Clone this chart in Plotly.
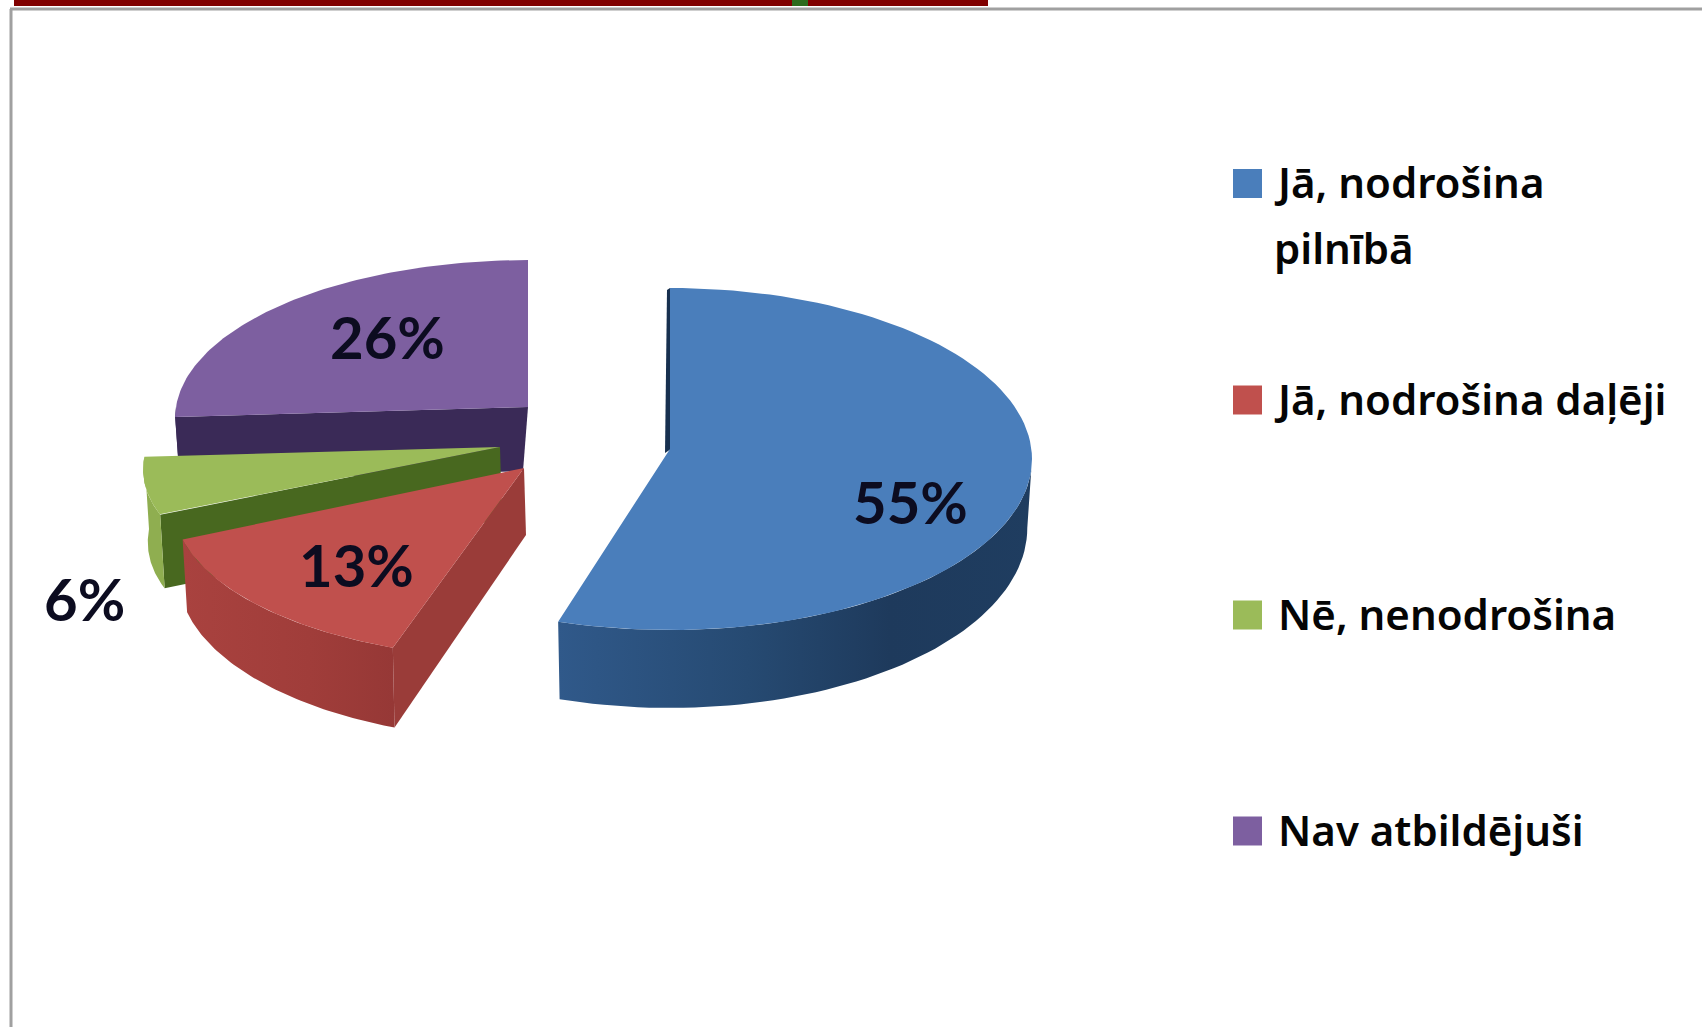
import numpy as np
import plotly.graph_objects as go

categories = ["Jā, nodrošina pilnībā", "Jā, nodrošina daļēji", "Nē, nenodrošina", "Nav atbildējuši"]
values = [55, 13, 6, 26]
legend_lines = [["Jā, nodrošina", "pilnībā"], ["Jā, nodrošina daļēji"], ["Nē, nenodrošina"], ["Nav atbildējuši"]]

top_colors = ["#4a7ebb", "#c0504d", "#9bbb59", "#7d5fa0"]
side_colors = ["#3a2a57", "#9a3c39", "#48681f", "#3a2a57"]
wall_scales = [
    [[0, "#30598a"], [0.4, "#264a72"], [0.7, "#1e3a5c"], [1, "#1f3d60"]],
    [[0, "#a9423f"], [0.6, "#a03d3a"], [1, "#963836"]],
    [[0, "#8fae50"], [1, "#8fae50"]],
    [[0, "#3a2a57"], [1, "#3a2a57"]],
]
# slice geometry in page pixels:
# centre x, centre y, radius x, radius y, x perspective, y perspective, depth, depth perspective
geom = [
    (670, 459, 362, 171, 0.0, 0.0, 69, 0.13),
    (524, 468, 339, 151, 0.265, 0.265, 67, 0.2),
    (500, 447, 353, 156, 0.15, 0.05, 72, 0.05),
    (528, 407, 352, 158, 0.07, 0.07, 64, 0.07),
]
# apex of each slice, where it differs from the ellipse centre
apex = [(670, 449), (524, 468), (500, 447), (528, 407)]
label_pos = [(910, 501), (356, 564), (84, 598), (387, 336)]
legend_y = [183.5, 400, 615, 831]
legend_text_x = [1272, 1272, 1276, 1276]

turns = np.cumsum([0] + values) / sum(values) * 2 * np.pi


def point(g, t, depth=False):
    cx, cy, rx, ry, kx, ky, d, kd = g
    sx = 1 - kx * np.cos(t)
    sy = 1 - ky * np.cos(t)
    x = cx + rx * sx * np.sin(t) * (0.987 if depth else 1)
    y = cy - ry * sy * np.cos(t) + (d * (1 - kd * np.cos(t)) if depth else 0)
    return x, y


def poly(xs, ys, color=None, scale=None, name=None):
    kw = dict(x=list(xs), y=list(ys), mode="lines", fill="toself", line=dict(width=0),
              hoverinfo="skip", showlegend=False, name=name)
    if scale:
        kw["fillgradient"] = dict(type="horizontal", colorscale=scale)
        kw["fillcolor"] = scale[0][1]
    else:
        kw["fillcolor"] = color
    return go.Scatter(**kw)


fig = go.Figure()
for i in [3, 2, 1, 0]:
    g = geom[i]
    ax, ay = apex[i]
    a, b = turns[i], turns[i + 1]
    name = categories[i]
    # flat cut wall on the start side of the slice
    if i in (1, 2):
        ox, oy = point(g, a)
        ox2, oy2 = point(g, a, True)
        fig.add_trace(poly([ax, ox, ox2, ax + 2], [ay, oy, oy2, ay + g[6]], side_colors[i], name=name))
    if i == 3:
        ox, oy = point(g, a)
        ox2, oy2 = point(g, a, True)
        fig.add_trace(poly([ax, ox, ox2, ax - 5], [ay, oy, oy2, ay + g[6]], side_colors[i], name=name))
    if i == 0:
        tx, ty = point(g, 0)
        fig.add_trace(poly([tx - 3, ax - 5, ax + 1, tx], [ty + 2, ay + 4, ay, ty], "#17304f", name=name))
    # curved outer wall, visible on the front half only
    lo, hi = max(a, np.pi / 2), min(b, 3 * np.pi / 2)
    if hi > lo:
        ts = np.linspace(lo, hi, 60)
        top = [point(g, t) for t in ts]
        bot = [point(g, t, True) for t in ts[::-1]]
        pts = top + bot
        fig.add_trace(poly([p[0] for p in pts], [p[1] for p in pts], scale=wall_scales[i], name=name))
    # top face
    ts = np.linspace(a, b, 100)
    pts = [(ax, ay)] + [point(g, t) for t in ts]
    fig.add_trace(poly([p[0] for p in pts], [p[1] for p in pts], top_colors[i], name=name))

# legend squares
for i, name in enumerate(categories):
    fig.add_trace(go.Scatter(x=[1247.5], y=[legend_y[i]], mode="markers", name=name, showlegend=False,
                             hoverinfo="skip",
                             marker=dict(symbol="square", size=29, color=top_colors[i], line=dict(width=0))))

annotations = []
for i, v in enumerate(values):
    annotations.append(dict(x=label_pos[i][0], y=label_pos[i][1], xref="x", yref="y", text=f"<b>{v}%</b>",
                            showarrow=False, xanchor="center", yanchor="middle",
                            font=dict(family="Lato", size=58, color="#0c0c20")))
    for j, line in enumerate(legend_lines[i]):
        annotations.append(dict(x=legend_text_x[i], y=legend_y[i] - 2 + j * 66, xref="x", yref="y", text=line,
                                showarrow=False, xanchor="left", yanchor="middle",
                                font=dict(family="Noto Sans", size=42, weight=600, color="#050505")))

shapes = [
    dict(type="rect", x0=14, x1=988, y0=0, y1=6, fillcolor="#800000", line_width=0, layer="below"),
    dict(type="rect", x0=792, x1=808, y0=0, y1=6, fillcolor="#2e6b1e", line_width=0, layer="below"),
    dict(type="line", x0=10, x1=1702, y0=9, y1=9, line=dict(color="#a0a0a0", width=3), layer="below"),
    dict(type="line", x0=11, x1=11, y0=9, y1=1027, line=dict(color="#a0a0a0", width=3), layer="below"),
]

fig.update_layout(
    width=1702, height=1027, margin=dict(l=0, r=0, t=0, b=0), autosize=False,
    paper_bgcolor="white", plot_bgcolor="white", showlegend=False,
    xaxis=dict(range=[0, 1702], visible=False, fixedrange=True),
    yaxis=dict(range=[1027, 0], visible=False, fixedrange=True),
    annotations=annotations, shapes=shapes,
)
fig.write_html("out.html", post_script="document.body.style.margin='0';document.body.style.overflow='hidden';",
               config={"displayModeBar": False})
